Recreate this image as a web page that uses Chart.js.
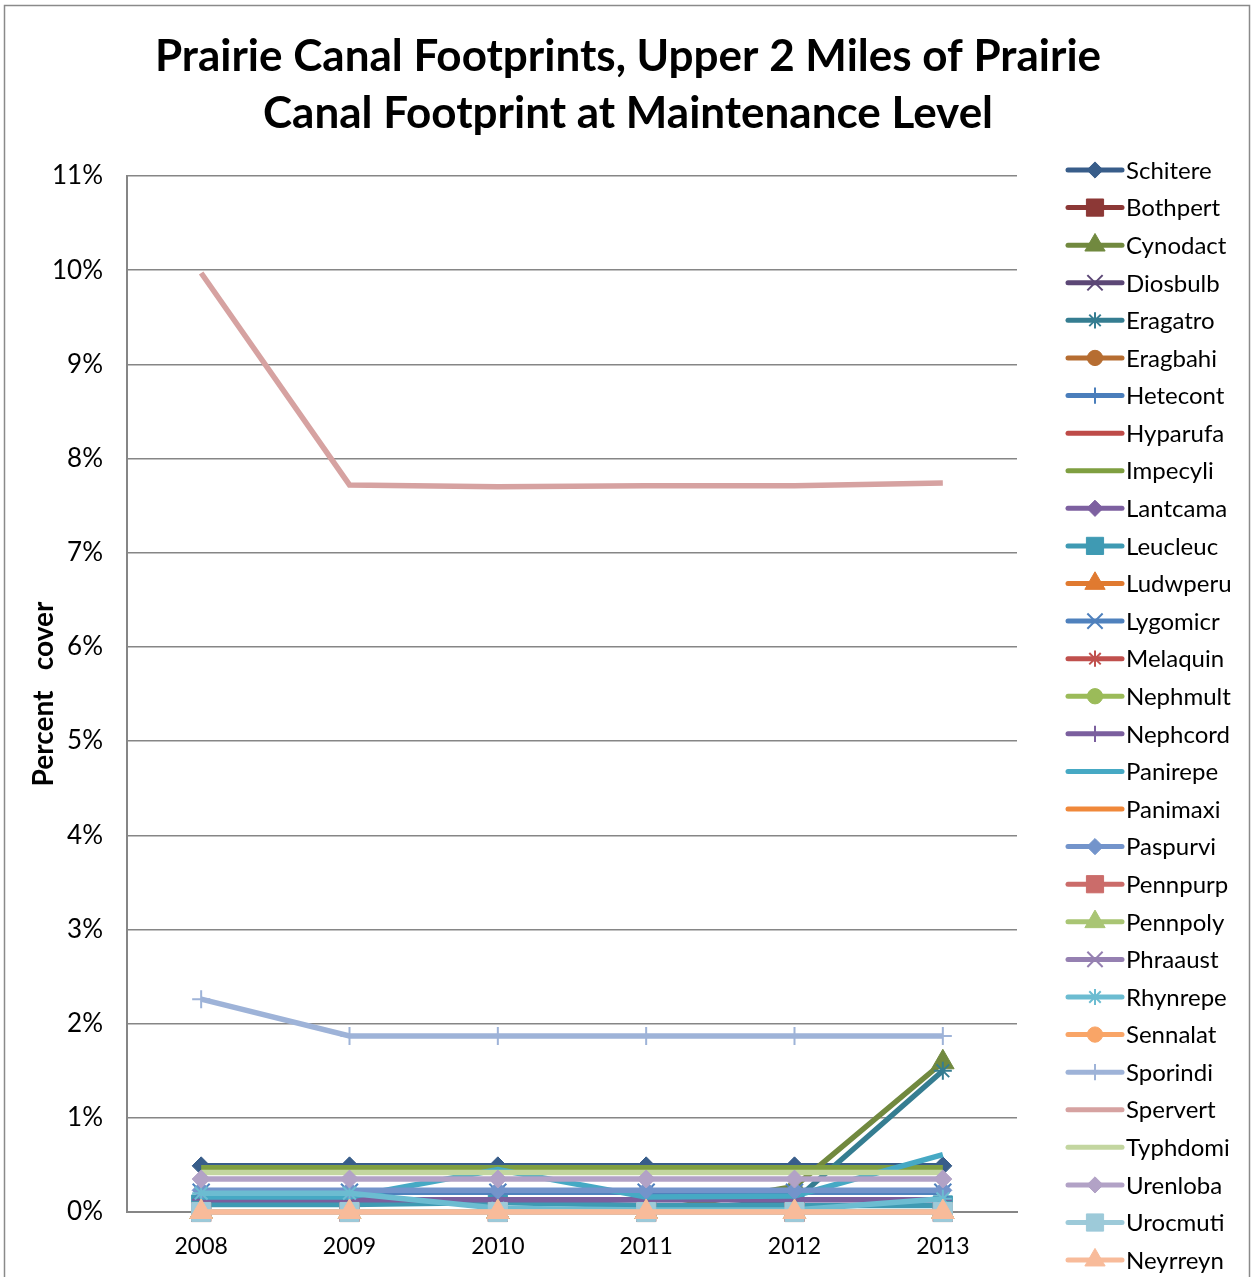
<!DOCTYPE html>
<html>
<head>
<meta charset="utf-8">
<script src="https://cdn.jsdelivr.net/npm/chart.js@4.4.1/dist/chart.umd.min.js"></script>
<style>
  body { margin: 0; background: #fff; }
  #wrap { width: 1254px; height: 1277px; }
</style>
</head>
<body>
<div id="wrap"><canvas id="chart" width="1254" height="1277"></canvas></div>
<script>
// Prairie canal footprint, percent cover by species

const chartTitle = [
  "Prairie Canal Footprints, Upper 2 Miles of Prairie",
  "Canal Footprint at Maintenance Level",
];
const years = ["2008", "2009", "2010", "2011", "2012", "2013"];
const yTicks = [0, 1, 2, 3, 4, 5, 6, 7, 8, 9, 10, 11];

const speciesNames = [
  "Schitere", "Bothpert", "Cynodact", "Diosbulb", "Eragatro", "Eragbahi",
  "Hetecont", "Hyparufa", "Impecyli", "Lantcama", "Leucleuc", "Ludwperu",
  "Lygomicr", "Melaquin", "Nephmult", "Nephcord", "Panirepe", "Panimaxi",
  "Paspurvi", "Pennpurp", "Pennpoly", "Phraaust", "Rhynrepe", "Sennalat",
  "Sporindi", "Spervert", "Typhdomi", "Urenloba", "Urocmuti", "Neyrreyn"
];

const schitere = [0.49, 0.49, 0.49, 0.49, 0.49, 0.49];
const bothpert = [0, 0, 0, 0, 0, 0];
const cynodact = [0, 0, 0, 0, 0.27, 1.59];
const diosbulb = [0, 0, 0, 0, 0, 0];
const eragatro = [0, 0, 0, 0, 0.12, 1.5];
const eragbahi = [0, 0, 0, 0, 0, 0];
const hetecont = [0, 0, 0, 0, 0, 0];
const hyparufa = [0, 0, 0, 0, 0, 0];
const impecyli = [0.47, 0.47, 0.47, 0.47, 0.47, 0.47];
const lantcama = [0, 0, 0, 0, 0, 0];
const leucleuc = [0.08, 0.08, 0.1, 0.07, 0.07, 0.07];
const ludwperu = [0, 0, 0, 0, 0, 0];
const lygomicr = [0.21, 0.21, 0.21, 0.21, 0.21, 0.21];
const melaquin = [0, 0, 0, 0, 0, 0];
const nephmult = [0, 0, 0, 0, 0, 0];
const nephcord = [0.13, 0.13, 0.13, 0.13, 0.13, 0.13];
const panirepe = [0.16, 0.16, 0.45, 0.16, 0.17, 0.61];
const panimaxi = [0, 0, 0, 0, 0, 0];
const paspurvi = [0.23, 0.23, 0.23, 0.23, 0.23, 0.23];
const pennpurp = [0, 0, 0, 0, 0, 0];
const pennpoly = [0, 0, 0, 0, 0, 0];
const phraaust = [0, 0, 0, 0, 0, 0];
const rhynrepe = [0.2, 0.2, 0.04, 0.02, 0.02, 0.14];
const sennalat = [0, 0, 0, 0, 0, 0];
const sporindi = [2.26, 1.87, 1.87, 1.87, 1.87, 1.87];
const spervert = [9.97, 7.72, 7.7, 7.71, 7.71, 7.74];
const typhdomi = [0.42, 0.42, 0.42, 0.42, 0.42, 0.42];
const urenloba = [0.35, 0.35, 0.35, 0.35, 0.35, 0.35];
const urocmuti = [0, 0, 0, 0, 0, 0];
const neyrreyn = [0, 0, 0, 0, 0, 0];

const seriesValues = [
  schitere, bothpert, cynodact, diosbulb, eragatro, eragbahi,
  hetecont, hyparufa, impecyli, lantcama, leucleuc, ludwperu,
  lygomicr, melaquin, nephmult, nephcord, panirepe, panimaxi,
  paspurvi, pennpurp, pennpoly, phraaust, rhynrepe, sennalat,
  sporindi, spervert, typhdomi, urenloba, urocmuti, neyrreyn
];

const seriesColors = [
  "#385D8A", "#8C3836", "#71893F", "#5C4776", "#357D91", "#B66D31",
  "#4A7EBB", "#BE4B48", "#7F9F41", "#7D60A0", "#3F9AB3", "#E07A30",
  "#4F81BD", "#C0504D", "#9BBB59", "#7B5F9E", "#46A9C4", "#F0883A",
  "#7394CB", "#CB6C6A", "#A9C574", "#9580B1", "#6CBCD1", "#F9A567",
  "#9EB3D8", "#D6A2A1", "#C3D6A0", "#B2A2C6", "#9DCAD9", "#F8BB9A"
];

// Excel marker cycle: diamond, square, triangle, x, star, circle, plus, none, none, ...
const markerCycle = ["rectRot", "rect", "triangle", "crossRot", "star", "circle", "cross", false, false];
const markerSize = { rectRot: 9, rect: 13.5, triangle: 13, crossRot: 12, star: 9, circle: 8.5, cross: 9 };

const FONT = "Lato, 'Open Sans', sans-serif";

const datasets = speciesNames.map((name, i) => {
  const style = markerCycle[i % markerCycle.length];
  return {
    label: name,
    data: seriesValues[i],
    borderColor: seriesColors[i],
    backgroundColor: seriesColors[i],
    borderWidth: 5.5,
    tension: 0,
    clip: false,
    pointStyle: style || "circle",
    pointRadius: style ? markerSize[style] : 0,
    pointBackgroundColor: seriesColors[i],
    pointBorderColor: seriesColors[i],
    pointBorderWidth: style && style.startsWith("cross") || style === "star" ? 2 : 1,
    order: speciesNames.length - i,
  };
});

// white page, grey frame and the title centred over the whole frame
const frame = {
  id: "frame",
  beforeDraw(chart) {
    const ctx = chart.ctx;
    ctx.save();
    ctx.fillStyle = "#fff";
    ctx.fillRect(0, 0, chart.width, chart.height);
    ctx.strokeStyle = "#8a8a8a";
    ctx.lineWidth = 1.5;
    ctx.strokeRect(4.5, 5.5, 1245, 1300);
    ctx.fillStyle = "#000";
    ctx.font = "bold 44px " + FONT;
    ctx.textAlign = "center";
    ctx.textBaseline = "middle";
    chartTitle.forEach((line, i) => ctx.fillText(line, 628, 57 + i * 57));
    ctx.restore();
  },
};

// legend: line sample with its marker, like Excel
const excelLegend = {
  id: "excelLegend",
  afterDraw(chart) {
    const ctx = chart.ctx;
    const x0 = 1068, x1 = 1122, top = 170, step = 37.59;
    ctx.save();
    chart.data.datasets.forEach((ds, i) => {
      const y = top + i * step;
      ctx.strokeStyle = ds.borderColor;
      ctx.fillStyle = ds.borderColor;
      ctx.lineWidth = 5;
      ctx.lineCap = "round";
      ctx.beginPath();
      ctx.moveTo(x0, y);
      ctx.lineTo(x1, y);
      ctx.stroke();
      ctx.lineCap = "butt";
      if (ds.pointRadius > 0) {
        ctx.lineWidth = ds.pointBorderWidth;
        Chart.helpers.drawPoint(ctx, {
          pointStyle: ds.pointStyle,
          radius: ds.pointRadius * 0.9,
          rotation: 0,
          borderWidth: ds.pointBorderWidth,
        }, (x0 + x1) / 2, y);
      }
      ctx.fillStyle = "#000";
      ctx.font = "24px " + FONT;
      ctx.textBaseline = "middle";
      ctx.textAlign = "left";
      ctx.fillText(ds.label, 1126, y + 1);
    });
    ctx.restore();
  },
};

new Chart(document.getElementById("chart"), {
  type: "line",
  data: { labels: years, datasets },
  options: {
    responsive: false,
    animation: false,
    layout: { padding: { left: 27, right: 237, top: 176, bottom: 17 } },
    plugins: {
      legend: { display: false },
      tooltip: { enabled: false },
    },
    scales: {
      x: {
        offset: true,
        afterFit: (scale) => { scale.height = 48; },
        grid: { display: false, drawTicks: false },
        border: { display: true, color: "#868686", width: 2 },
        ticks: { color: "#000", font: { family: FONT, size: 23 }, padding: 21 },
      },
      y: {
        min: 0,
        max: 11,
        afterBuildTicks: (axis) => {
          axis.ticks = yTicks.map((v) => ({ value: v }));
        },
        afterFit: (scale) => { scale.width = 100; },
        grid: { color: "#868686", lineWidth: 1.5, drawTicks: false },
        border: { display: true, color: "#868686", width: 2 },
        ticks: {
          color: "#000",
          font: { family: FONT, size: 26 },
          padding: 24,
          callback: (v) => v + "%",
        },
        title: {
          display: true,
          text: "Percent   cover",
          color: "#000",
          font: { family: FONT, size: 28, weight: "bold" },
          padding: { top: 0, bottom: 0 },
        },
      },
    },
  },
  plugins: [frame, excelLegend],
});
</script>
</body>
</html>
